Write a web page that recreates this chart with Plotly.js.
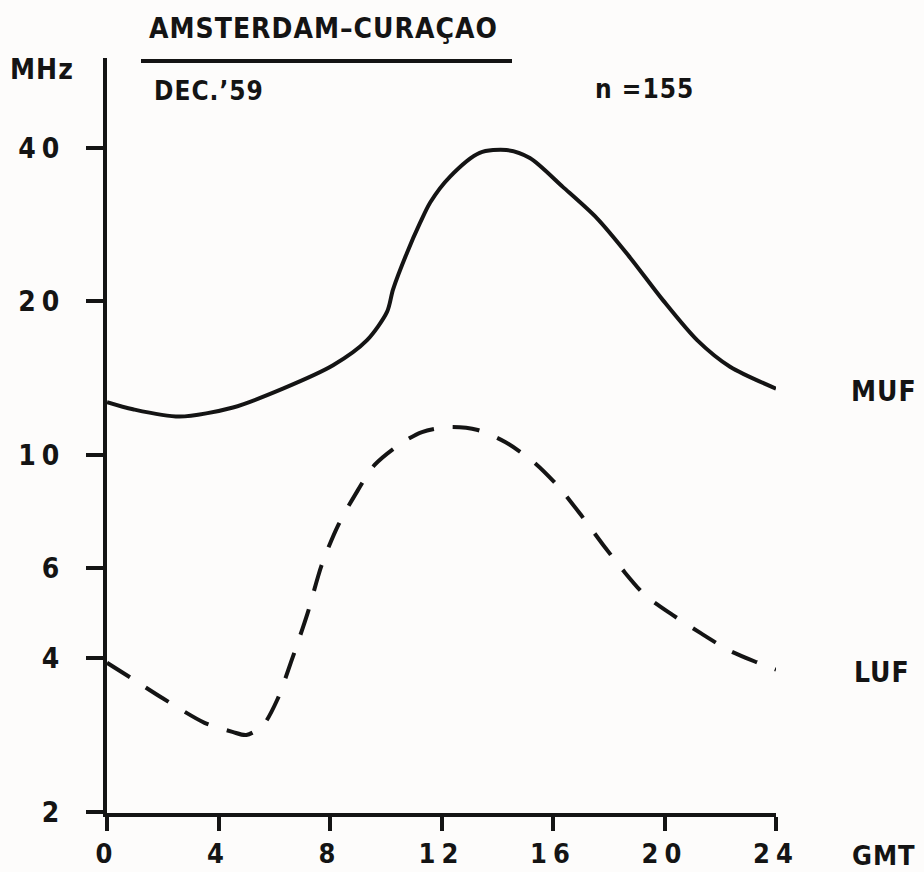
<!DOCTYPE html>
<html>
<head>
<meta charset="utf-8">
<script src="https://cdn.plot.ly/plotly-3.0.1.min.js"></script>
<style>
  html, body { margin: 0; padding: 0; background: #fdfcfb; }
  #chart { width: 924px; height: 872px; }
  .xtick text, .ytick text { letter-spacing: 6px; }
  .annotation-text { letter-spacing: 1px; }
</style>
</head>
<body>
<div id="chart"></div>
<script>
// Hours (GMT) and frequencies (MHz)
const mufHours = [0, 0.93, 2.6, 4.52, 6.31, 8.11, 9.33, 10.05, 10.26, 10.76, 11.23, 11.6, 12.3, 13.37, 14.33, 15.17, 16.36, 17.58, 18.76, 19.95, 21.17, 22.35, 24];
const mufMHz   = [12.7, 12.3, 11.9, 12.4, 13.5, 15.0, 16.8, 19.1, 21.1, 24.9, 28.5, 31.3, 35.1, 39.1, 39.6, 38.2, 33.5, 29.1, 24.4, 20.1, 16.8, 14.9, 13.5];

const lufHours = [0, 0.93, 2.0, 3.5, 4.5, 5.0, 5.6, 6.1, 6.6, 7.2, 7.7, 8.3, 8.9, 9.6, 10.5, 11.3, 12.3, 13.3, 14.3, 15.3, 16.2, 17.0, 17.8, 18.5, 19.3, 20.3, 21.3, 22.3, 23.3, 24];
const lufMHz   = [3.92, 3.64, 3.34, 2.99, 2.87, 2.83, 2.96, 3.31, 3.93, 4.91, 6.09, 7.30, 8.36, 9.57, 10.5, 11.1, 11.35, 11.2, 10.6, 9.7, 8.67, 7.64, 6.67, 5.96, 5.32, 4.86, 4.48, 4.15, 3.93, 3.8];

const xTickVals = [0, 4, 8, 12, 16, 20, 24];
const xTickText = ["0", "4", "8", "12", "16", "20", "24"];
const yTickVals = [2, 4, 6, 10, 20, 40];
const yTickText = ["2", "4", "6", "10", "20", "40"];

const titleText = "AMSTERDAM–CURAÇAO";
const dateText = "DEC.’59";
const countText = "n =155";
const yUnit = "MHz";
const xUnit = "GMT";
const mufLabel = "MUF";
const lufLabel = "LUF";

const FONT = '"DejaVu Sans Condensed", "DejaVu Sans", sans-serif';
const INK = '#141414';

const W = 924, H = 872;
const L = 107, R = 148, T = 58, B = 59;
const pw = W - L - R, ph = H - T - B;
const px = x => (x - L) / pw;
const py = y => (H - B - y) / ph;

const traces = [
  { x: mufHours, y: mufMHz, mode: 'lines', type: 'scatter',
    line: { color: INK, width: 4, shape: 'spline', smoothing: 0.8 }, hoverinfo: 'skip', cliponaxis: false },
  { x: lufHours, y: lufMHz, mode: 'lines', type: 'scatter',
    line: { color: INK, width: 4, shape: 'spline', smoothing: 0.8, dash: '27px,19px' }, hoverinfo: 'skip', cliponaxis: false }
];

function ann(text, x, y, size, anchor) {
  return { text: text, xref: 'paper', yref: 'paper', x: px(x), y: py(y),
    xanchor: anchor || 'left', yanchor: 'middle', showarrow: false,
    font: { family: FONT, size: size, color: INK, weight: 'bold' } };
}

const layout = {
  width: W, height: H,
  margin: { l: L, r: R, t: T, b: B, pad: 0 },
  paper_bgcolor: '#fdfcfb', plot_bgcolor: '#fdfcfb',
  showlegend: false,
  font: { family: FONT, color: INK },
  xaxis: {
    type: 'linear', range: [0, 24], fixedrange: true,
    showgrid: false, zeroline: false,
    showline: true, linecolor: INK, linewidth: 4,
    ticks: 'outside', ticklen: 14, tickwidth: 4, tickcolor: INK,
    tickvals: xTickVals, ticktext: xTickText,
    tickfont: { family: FONT, size: 27, color: INK, weight: 'bold' },
    ticklabelstandoff: 0
  },
  yaxis: {
    type: 'log', range: [0.299, 1.778], fixedrange: true,
    showgrid: false, zeroline: false,
    showline: true, linecolor: INK, linewidth: 4,
    ticks: 'outside', ticklen: 17, tickwidth: 4, tickcolor: INK,
    tickvals: yTickVals, ticktext: yTickText,
    tickfont: { family: FONT, size: 28, color: INK, weight: 'bold' },
    ticklabelstandoff: 15
  },
  shapes: [
    { type: 'line', xref: 'paper', yref: 'paper', x0: px(141), x1: px(512), y0: py(61), y1: py(61),
      line: { color: INK, width: 4 } }
  ],
  annotations: [
    ann(titleText, 147, 28, 28),
    ann(dateText, 152, 91, 26),
    ann(countText, 593, 89, 26),
    ann(yUnit, 8, 69, 28),
    ann(mufLabel, 849, 391, 28),
    ann(lufLabel, 852, 672, 28),
    ann(xUnit, 850, 855, 27)
  ]
};

Plotly.newPlot('chart', traces, layout, { staticPlot: true, displayModeBar: false });
</script>
</body>
</html>
